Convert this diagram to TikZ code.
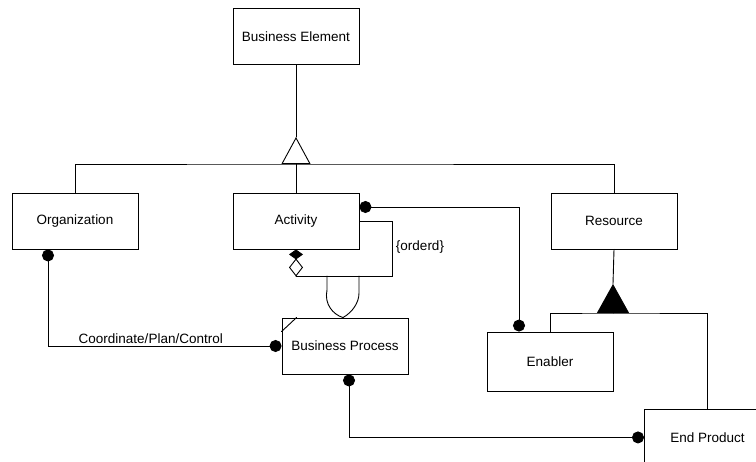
\documentclass[tikz,border=0pt]{standalone}
\usepackage{fontspec}
\setmainfont{Liberation Sans}
\usetikzlibrary{
arrows.meta
}
\newcommand\umlfont{\fontsize{13.5}{16}\selectfont}
\tikzset{
  knob/.tip={Circle[length=12pt,width=12pt]},
  % Inheritance markers:
  inherit/.tip={Triangle[open,length=27pt,width=29pt]},
  inheritfull/.tip={Triangle[length=29pt,width=32pt]},
  % Aggregation markers:
  whole/.tip={Diamond[length=10pt,width=14pt]},
  part/.tip={Diamond[open,length=18pt,width=14pt]}
}

\begin{document}
\begin{tikzpicture}[
    x=1pt, y=-1pt,
    cls/.style={
      draw,
      line width=0.9pt,
      minimum width=126pt,
      minimum height=56pt,
      inner sep=0pt,
      font=\umlfont
    },
    link/.style={
      line width=0.9pt,
      line cap=round
    },
    lbl/.style={
      font=\umlfont,
      inner sep=2pt
    }
  ]
  \clip (0,0) rectangle (756,462);
  \node[cls] (be) at (296,36.5) {Business Element};
  \node[cls] (org) at (75,221) {Organization};
  \node[cls] (act) at (296,221) {Activity};
  \node[cls] (res) at (614,221) {Resource};
  \node[cls] (bp) at (345,346) {Business Process};
  \node[cls,minimum height=59pt] (ena) at (550,361.5) {Enabler};
  \node[cls,anchor=north west] (ep) at (644,409) {End Product};
  % generalization of Business Element
  \coordinate (bar) at (296,164);
  \coordinate (apex) at (296,137);
  \draw[link] (apex) -- (be);
  \draw[link] (org.north) |- (bar) -| (res.north);
  \draw[link] (bar) -- (act.north);
  \draw[link,-inherit] (bar) -- (apex);
  % ordered self aggregation
  \coordinate (loopR) at (392,276);
  \coordinate (loopL) at (act.south |- loopR);
  \coordinate (midD) at ([yshift=-9pt]act.south);
  \draw[link] (act.east) -| (loopR) -- (loopL);
  \draw[link,-part] (loopL) -- (midD);
  \draw[link,-whole] (midD) -- (act.south);
  \node[lbl] (ord) at (420,247) {\{orderd\}};
  \coordinate (lensL) at (327,276);
  \coordinate (lensR) at (359,276);
  \coordinate (lensT) at ([xshift=-2pt]bp.north);
  \draw[link] (lensL) -- ++(0,14) .. controls +(-3,14) and +(-10,-3) .. (lensT);
  \draw[link] (lensR) -- ++(0,17) .. controls +(0,10) and +(9,-5) .. (lensT);
  % associations
  \draw[link,knob-knob] ([xshift=-27pt]org.south) |- (bp.west)
    node[lbl,pos=0.72,above] (cpc) {Coordinate/Plan/Control};
  \draw[link,knob-knob] ([yshift=14pt]act.east) -| ([xshift=-31pt]ena.north);
  \draw[link,knob-knob] ([xshift=4pt]bp.south) |- (ep.west);
  \draw[link] ([yshift=-14pt]bp.north west) -- ([xshift=15pt]bp.north west);
  % generalization of Resource
  \coordinate (resbar) at (613,313);
  \coordinate (resapex) at (613,284);
  \draw[link] (res.south) -- (resapex);
  \draw[link] (ena.north) |- (resbar) -| (ep.north);
  \draw[link,-inheritfull] (resbar) -- (resapex);
\end{tikzpicture}
\end{document}
